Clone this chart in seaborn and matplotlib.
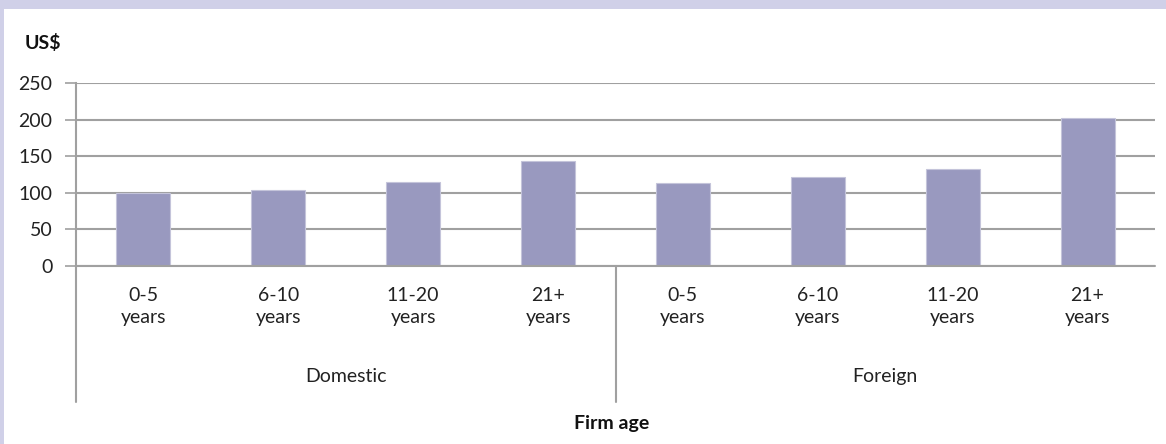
import seaborn as sns
import matplotlib.pyplot as plt
import pandas as pd
from matplotlib.patches import Rectangle
from matplotlib.lines import Line2D

# data
groups = ['Domestic', 'Domestic', 'Domestic', 'Domestic',
          'Foreign', 'Foreign', 'Foreign', 'Foreign']
ages = ['0-5\nyears', '6-10\nyears', '11-20\nyears', '21+\nyears',
        '0-5\nyears', '6-10\nyears', '11-20\nyears', '21+\nyears']
values = [100, 104, 115, 143, 113, 122, 133, 202]
group_names = ['Domestic', 'Foreign']

df = pd.DataFrame({'group': groups, 'age': ages, 'value': values})
df['key'] = df['group'] + ' ' + df['age']

sns.set_style('white')
plt.rcParams['font.family'] = ['Lato', 'DejaVu Sans']

W, H = 1166, 444
fs = 14
fig = plt.figure(figsize=(W / 100, H / 100), dpi=100)
fig.patch.set_facecolor('white')

# lavender frame
frame = '#D0D0E8'
fig.patches.append(Rectangle((0, 1 - 9 / H), 1, 9 / H, transform=fig.transFigure,
                             facecolor=frame, edgecolor='none', zorder=0))
fig.patches.append(Rectangle((0, 0), 4 / W, 1, transform=fig.transFigure,
                             facecolor=frame, edgecolor='none', zorder=0))

left, right, top, bottom = 76 / W, 1155 / W, 1 - 83.3 / H, 1 - 266 / H
ax = fig.add_axes([left, bottom, right - left, top - bottom])

sns.barplot(data=df, x='key', y='value', order=list(df['key']), color='#9999BF',
            saturation=1, width=0.4, edgecolor='#C4C4DA', linewidth=0.8, ax=ax, zorder=3)

grid = '#A0A0A0'
ax.set_ylim(0, 250)
ax.set_xlim(-0.5, len(values) - 0.5)
ax.set_yticks(range(0, 251, 50))
ax.yaxis.grid(True, color=grid, linewidth=1.5)
ax.set_axisbelow(True)
for s in ['top', 'right', 'bottom']:
    ax.spines[s].set_visible(False)
ax.spines['left'].set_color(grid)
ax.spines['left'].set_linewidth(1.5)
ax.tick_params(axis='y', length=8, width=1.2, color=grid, pad=9,
               labelsize=fs, labelcolor='#222222', left=True)
ax.set_xticks(range(len(ages)))
ax.set_xticklabels(ages, fontsize=fs, color='#222222', linespacing=1.4)
ax.tick_params(axis='x', length=0, pad=15)
ax.set_xlabel('')
ax.set_ylabel('')

# category axis lines extending down
y_low = 1 - 402 / H
for xf in [left, left + (right - left) / 2]:
    fig.add_artist(Line2D([xf, xf], [bottom, y_low], color=grid, linewidth=1.5,
                          transform=fig.transFigure))
fig.add_artist(Line2D([left, right], [bottom, bottom], color=grid, linewidth=1.5,
                      transform=fig.transFigure))

# group labels
for i, name in enumerate(group_names):
    xc = left + (right - left) * (0.25 + 0.5 * i)
    fig.text(xc, 1 - 376 / H, name, ha='center', va='center', fontsize=fs, color='#222222')

fig.text(43 / W, 1 - 43 / H, 'US$', ha='center', va='center', fontsize=fs,
         fontweight='bold', color='#111111')
fig.text(612 / W, 1 - 423 / H, 'Firm age', ha='center', va='center', fontsize=fs,
         fontweight='bold', color='#111111')

fig.savefig('out.png', dpi=100)
